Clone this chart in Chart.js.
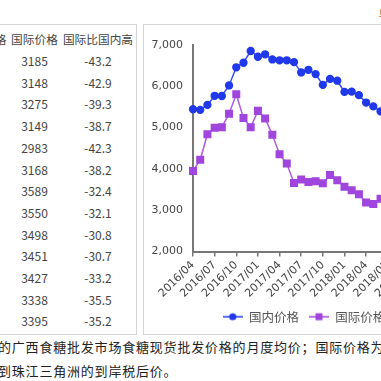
<!DOCTYPE html>
<html>
<head>
<meta charset="utf-8">
<script src="https://cdn.jsdelivr.net/npm/chart.js@4.4.0/dist/chart.umd.min.js"></script>
<style>
html, body { margin: 0; padding: 0; background: #fff; }
body { width: 381px; height: 381px; overflow: hidden; position: relative; }
#tablePanel { position: absolute; left: -120px; top: 24px; width: 257px; height: 311px; box-sizing: border-box; border: 1px solid #d4d4d4; }
#priceTable { position: absolute; left: 16px; top: 2px; border-collapse: collapse; table-layout: fixed; font-family: "Noto Sans CJK SC", sans-serif; font-size: 12px; color: #444; }
#priceTable th, #priceTable td { padding: 0; text-align: center; font-weight: normal; white-space: nowrap; }
#priceTable th { height: 23px; line-height: 23px; font-size: 11.7px; }
#priceTable td { height: 21.7px; line-height: 21.7px; }
#chartPanel { position: absolute; left: 143px; top: 24px; width: 300px; height: 311px; box-sizing: border-box; border: 1px solid #d4d4d4; overflow: hidden; }
#priceChart { position: absolute; left: 0; top: 0; }
.note { position: absolute; left: -2px; font-family: "Noto Sans CJK SC", sans-serif; font-size: 13px; letter-spacing: 0.8px; color: #222; white-space: nowrap; line-height: 24px; }
#unit { position: absolute; left: 378.5px; top: 4px; font-family: "Noto Sans CJK SC", sans-serif; font-size: 12px; color: #c0702a; white-space: nowrap; }
</style>
</head>
<body>
<div id="unit">单位：元/吨</div>
<div id="tablePanel">
  <table id="priceTable">
    <colgroup><col style="width:60px"><col style="width:52px"><col style="width:51px"><col style="width:76px"></colgroup>
    <thead><tr><th>月份</th><th>国内价格</th><th>国际价格</th><th>国际比国内高</th></tr></thead>
    <tbody></tbody>
  </table>
</div>
<div id="chartPanel"><canvas id="priceChart" width="320" height="309"></canvas></div>
<div class="note" style="top:335px">的广西食糖批发市场食糖现货批发价格的月度均价；国际价格为</div>
<div class="note" style="top:359px">到珠江三角洲的到岸税后价。</div>
<script>
// 月份（2016/04 - 2019/04）
var months = ['2016/04', '2016/05', '2016/06', '2016/07', '2016/08', '2016/09', '2016/10', '2016/11', '2016/12',
  '2017/01', '2017/02', '2017/03', '2017/04', '2017/05', '2017/06', '2017/07', '2017/08', '2017/09', '2017/10', '2017/11', '2017/12',
  '2018/01', '2018/02', '2018/03', '2018/04', '2018/05', '2018/06', '2018/07', '2018/08', '2018/09', '2018/10', '2018/11', '2018/12',
  '2019/01', '2019/02', '2019/03', '2019/04'];

// 国内价格
var domestic = [5445, 5430, 5550, 5770, 5765, 6020, 6460, 6570, 6855,
  6715, 6775, 6650, 6630, 6630, 6585, 6335, 6400, 6295, 6035, 6180, 6135,
  5865, 5870, 5785, 5607, 5513, 5395, 5137, 5170, 5126, 5309, 5228, 5055,
  4980, 5130, 5175, 5239];

// 国际价格
var international = [3950, 4220, 4840, 4995, 5010, 5335, 5805, 5230, 5010,
  5405, 5220, 4825, 4355, 4130, 3660, 3745, 3680, 3700, 3650, 3855, 3725,
  3565, 3485, 3385, 3185, 3148, 3275, 3149, 2983, 3168, 3589, 3550, 3498,
  3451, 3427, 3338, 3395];

// 国际比国内高（%），表格中 2018/04 起
var tableMonths = ['2018/04', '2018/05', '2018/06', '2018/07', '2018/08', '2018/09', '2018/10', '2018/11', '2018/12', '2019/01', '2019/02', '2019/03', '2019/04'];
var gapPct = ['-43.2', '-42.9', '-39.3', '-38.7', '-42.3', '-38.2', '-32.4', '-32.1', '-30.8', '-30.7', '-33.2', '-35.5', '-35.2'];

var yTicks = [2000, 3000, 4000, 5000, 6000, 7000];

var blue = '#2039ea';
var purple = '#a046de';

// table
var tbody = document.querySelector('#priceTable tbody');
tableMonths.forEach(function (m, i) {
  var k = months.indexOf(m);
  var tr = document.createElement('tr');
  [m, domestic[k], international[k], gapPct[i]].forEach(function (v) {
    var td = document.createElement('td');
    td.textContent = v;
    tr.appendChild(td);
  });
  tbody.appendChild(tr);
});

// legend icons: -●- and -■-
function legendIcon(color, shape) {
  var c = document.createElement('canvas');
  c.width = 20; c.height = 10;
  var g = c.getContext('2d');
  g.strokeStyle = color;
  g.lineWidth = 1.5;
  g.beginPath(); g.moveTo(0, 5); g.lineTo(20, 5); g.stroke();
  g.fillStyle = color;
  if (shape === 'circle') {
    g.beginPath(); g.arc(10, 5, 3.6, 0, Math.PI * 2); g.fill();
  } else {
    g.fillRect(6.5, 1.5, 7, 7);
  }
  return c;
}
var icons = [legendIcon(blue, 'circle'), legendIcon(purple, 'rect')];

var tickFont = { family: 'DejaVu Sans', size: 11 };

new Chart(document.getElementById('priceChart'), {
  type: 'line',
  data: {
    labels: months,
    datasets: [
      {
        label: '国内价格',
        data: domestic,
        borderColor: '#3552ee',
        backgroundColor: blue,
        pointBackgroundColor: blue,
        pointBorderColor: blue,
        pointStyle: 'circle',
        pointRadius: 3.4,
        borderWidth: 1.5,
        clip: false
      },
      {
        label: '国际价格',
        data: international,
        borderColor: '#ad5ce2',
        backgroundColor: purple,
        pointBackgroundColor: purple,
        pointBorderColor: purple,
        pointStyle: 'rect',
        pointRadius: 4.6,
        borderWidth: 1.5,
        clip: false
      }
    ]
  },
  options: {
    responsive: false,
    animation: false,
    devicePixelRatio: 1,
    layout: { padding: { top: 20, left: 0, right: 0, bottom: 1 } },
    plugins: {
      tooltip: { enabled: false },
      legend: {
        position: 'bottom',
        labels: {
          usePointStyle: true,
          pointStyleWidth: 20,
          boxHeight: 10,
          padding: 10,
          color: '#555',
          font: { family: 'Noto Sans CJK SC', size: 12.5 },
          generateLabels: function (chart) {
            return chart.data.datasets.map(function (ds, i) {
              return { text: ds.label, pointStyle: icons[i], fillStyle: ds.backgroundColor, strokeStyle: ds.backgroundColor, lineWidth: 0, hidden: false, datasetIndex: i, fontColor: '#555' };
            });
          }
        }
      }
    },
    scales: {
      x: {
        offset: false,
        grid: {
          drawOnChartArea: false,
          drawTicks: true,
          tickLength: 5,
          lineWidth: 1.5,
          color: function (c) { return c.index % 3 === 0 ? '#777' : 'rgba(0,0,0,0)'; }
        },
        border: { display: true, color: '#777', width: 2 },
        ticks: {
          autoSkip: false,
          minRotation: 45,
          maxRotation: 45,
          padding: 2,
          color: '#444',
          font: tickFont,
          callback: function (v, i) { return i % 3 === 0 ? months[i] : ''; }
        },
        afterFit: function (s) { s.height = 49; }
      },
      y: {
        min: yTicks[0],
        max: yTicks[yTicks.length - 1],
        grid: { display: false },
        border: { display: true, color: '#777', width: 2 },
        afterBuildTicks: function (s) { s.ticks = yTicks.map(function (v) { return { value: v }; }); },
        ticks: {
          padding: 2,
          color: '#444',
          font: tickFont,
          callback: function (v) { return v.toLocaleString('en-US'); }
        },
        afterFit: function (s) { s.width = 49; }
      }
    }
  }
});
</script>
</body>
</html>
